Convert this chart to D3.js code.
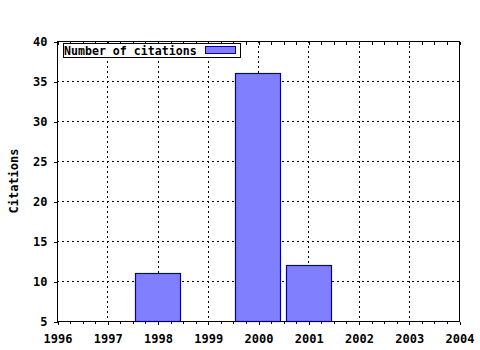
<!DOCTYPE html>
<html>
<head>
<meta charset="utf-8">
<script src="https://cdn.jsdelivr.net/npm/d3@7"></script>
<style>
  body { margin: 0; background: #fff; }
  text { font-family: "DejaVu Sans Mono", monospace; font-weight: bold; }
</style>
</head>
<body>
<div id="chart"></div>
<script>
var years = [1996, 1997, 1998, 1999, 2000, 2001, 2002, 2003, 2004];
var barYears = [1998, 2000, 2001];
var citations = [11, 36, 12];
var yTicks = [5, 10, 15, 20, 25, 30, 35, 40];
var seriesName = "Number of citations";
var yTitle = "Citations";

var W = 480, H = 350;
var pLeft = 57, pRight = 459, pTop = 41, pBottom = 321;

var svg = d3.select("#chart").append("svg")
    .attr("width", W).attr("height", H);

var x = d3.scaleLinear().domain([1996, 2004]).range([pLeft, pRight]);
var y = d3.scaleLinear().domain([5, 40]).range([pBottom, pTop]);

// minor ticks, 4 per year
var minor = [];
for (var i = 0; i < years.length - 1; i++) {
    for (var k = 1; k < 4; k++) minor.push(years[i] + k / 4);
}

// grid
var grid = svg.append("g").attr("stroke", "#000").attr("stroke-dasharray", "2,3").attr("shape-rendering", "crispEdges");
grid.selectAll("line.v").data(years.slice(1, -1)).enter().append("line")
    .attr("x1", function(d) { return Math.round(x(d)) + 0.5; })
    .attr("x2", function(d) { return Math.round(x(d)) + 0.5; })
    .attr("y1", pTop).attr("y2", pBottom);
grid.selectAll("line.h").data(yTicks.slice(1, -1)).enter().append("line")
    .attr("y1", function(d) { return y(d) + 0.5; })
    .attr("y2", function(d) { return y(d) + 0.5; })
    .attr("x1", pLeft).attr("x2", pRight);

// bars
var bw = 0.9;
svg.selectAll("rect.bar").data(barYears).enter().append("rect")
    .attr("class", "bar")
    .attr("x", function(d) { return Math.round(x(d - bw / 2)) + 0.5; })
    .attr("width", function(d) { return Math.round(x(d + bw / 2) - x(d - bw / 2)); })
    .attr("y", function(d, i) { return y(citations[i]) + 0.5; })
    .attr("height", function(d, i) { return pBottom - y(citations[i]); })
    .attr("fill", "#8080ff")
    .attr("stroke", "#0000a8")
    .attr("stroke-width", 1.2);

// frame
svg.append("rect")
    .attr("x", pLeft + 0.5).attr("y", pTop + 0.5)
    .attr("width", pRight - pLeft).attr("height", pBottom - pTop)
    .attr("fill", "none").attr("stroke", "#000").attr("shape-rendering", "crispEdges");

// axes
var xAxis = svg.append("g").attr("transform", "translate(0.5," + (pBottom + 0.5) + ")")
    .call(d3.axisBottom(x).tickValues(years).tickFormat(d3.format("d")).tickSize(3).tickPadding(8));
var xMinor = svg.append("g").attr("transform", "translate(0.5," + (pBottom + 0.5) + ")")
    .call(d3.axisBottom(x).tickValues(minor).tickFormat("").tickSize(2));
var xTop = svg.append("g").attr("transform", "translate(0.5," + (pTop + 0.5) + ")")
    .call(d3.axisTop(x).tickValues(years.concat(minor)).tickFormat("").tickSize(-3));
var yAxis = svg.append("g").attr("transform", "translate(" + (pLeft + 0.5) + ",0.5)")
    .call(d3.axisLeft(y).tickValues(yTicks).tickSize(4).tickPadding(6));

svg.selectAll(".domain").remove();
svg.selectAll(".tick line").attr("shape-rendering", "crispEdges");
svg.selectAll(".tick text").attr("font-size", 12).attr("font-family", "DejaVu Sans Mono, monospace").attr("font-weight", "bold");
xAxis.selectAll(".tick text").attr("dy", "0.9em");

// y title
svg.append("text")
    .attr("transform", "translate(18," + ((pTop + pBottom) / 2) + ") rotate(-90)")
    .attr("text-anchor", "middle")
    .attr("font-size", 12)
    .text(yTitle);

// legend
var lg = svg.append("g");
lg.append("rect")
    .attr("x", 63.5).attr("y", 43.5).attr("width", 177).attr("height", 14)
    .attr("fill", "#fff").attr("stroke", "#000");
lg.append("text").attr("x", 64).attr("y", 55).attr("font-size", 11.6).text(seriesName);
lg.append("rect")
    .attr("x", 205.5).attr("y", 46.5).attr("width", 30).attr("height", 7)
    .attr("fill", "#8080ff").attr("stroke", "#0000a8");
</script>
</body>
</html>
